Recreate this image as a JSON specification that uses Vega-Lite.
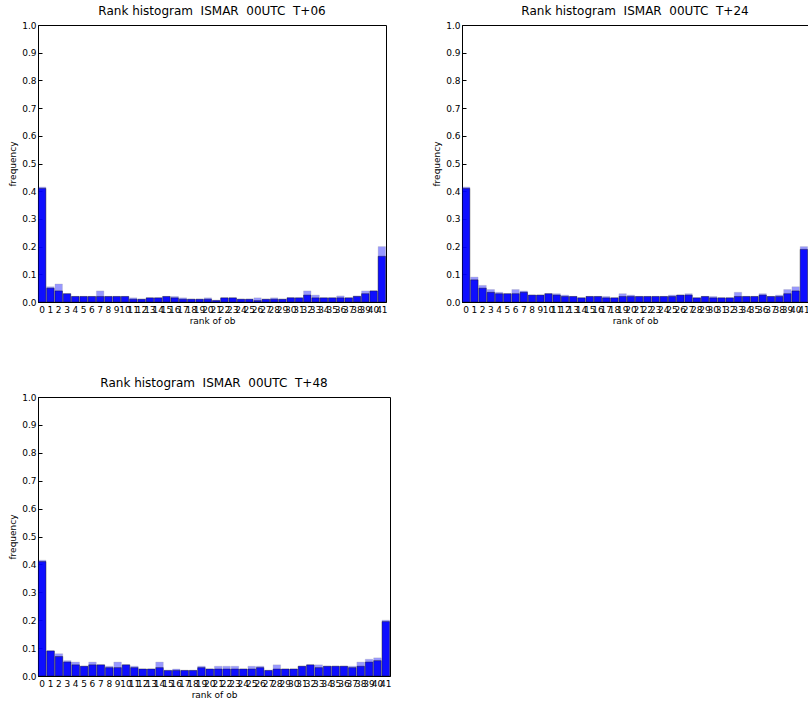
{
"$schema":"https://vega.github.io/schema/vega-lite/v6.json",
"background":"white",
"padding":{"left":8,"top":4,"right":0,"bottom":0},
"config":{"view":{"stroke":"black","strokeWidth":1},"font":"DejaVu Sans",
"axis":{"grid":false,"domainColor":"black","tickColor":"black","labelColor":"black","titleColor":"black","labelFontSize":9,"titleFontSize":9,"titleFontWeight":"normal","tickSize":-4,"labelPadding":6,"labelOverlap":false},
"title":{"fontSize":12,"fontWeight":"normal","color":"black","offset":3}},
"datasets":{"d":[
{"p":"T+06","r":0,"hi":0.415,"lo":0.41},{"p":"T+06","r":1,"hi":0.055,"lo":0.05},{"p":"T+06","r":2,"hi":0.065,"lo":0.04},{"p":"T+06","r":3,"hi":0.03,"lo":0.03},{"p":"T+06","r":4,"hi":0.02,"lo":0.02},{"p":"T+06","r":5,"hi":0.02,"lo":0.02},{"p":"T+06","r":6,"hi":0.02,"lo":0.02},{"p":"T+06","r":7,"hi":0.04,"lo":0.02},{"p":"T+06","r":8,"hi":0.02,"lo":0.02},{"p":"T+06","r":9,"hi":0.02,"lo":0.02},{"p":"T+06","r":10,"hi":0.02,"lo":0.02},{"p":"T+06","r":11,"hi":0.015,"lo":0.01},{"p":"T+06","r":12,"hi":0.01,"lo":0.01},{"p":"T+06","r":13,"hi":0.015,"lo":0.015},{"p":"T+06","r":14,"hi":0.015,"lo":0.015},{"p":"T+06","r":15,"hi":0.02,"lo":0.02},{"p":"T+06","r":16,"hi":0.02,"lo":0.015},{"p":"T+06","r":17,"hi":0.015,"lo":0.01},{"p":"T+06","r":18,"hi":0.01,"lo":0.01},{"p":"T+06","r":19,"hi":0.01,"lo":0.01},{"p":"T+06","r":20,"hi":0.015,"lo":0.01},{"p":"T+06","r":21,"hi":0.007,"lo":0.005},{"p":"T+06","r":22,"hi":0.015,"lo":0.015},{"p":"T+06","r":23,"hi":0.015,"lo":0.015},{"p":"T+06","r":24,"hi":0.01,"lo":0.01},{"p":"T+06","r":25,"hi":0.01,"lo":0.01},{"p":"T+06","r":26,"hi":0.015,"lo":0.005},{"p":"T+06","r":27,"hi":0.01,"lo":0.01},{"p":"T+06","r":28,"hi":0.015,"lo":0.01},{"p":"T+06","r":29,"hi":0.01,"lo":0.01},{"p":"T+06","r":30,"hi":0.015,"lo":0.015},{"p":"T+06","r":31,"hi":0.015,"lo":0.015},{"p":"T+06","r":32,"hi":0.04,"lo":0.025},{"p":"T+06","r":33,"hi":0.025,"lo":0.015},{"p":"T+06","r":34,"hi":0.015,"lo":0.015},{"p":"T+06","r":35,"hi":0.015,"lo":0.015},{"p":"T+06","r":36,"hi":0.022,"lo":0.015},{"p":"T+06","r":37,"hi":0.015,"lo":0.015},{"p":"T+06","r":38,"hi":0.022,"lo":0.02},{"p":"T+06","r":39,"hi":0.04,"lo":0.03},{"p":"T+06","r":40,"hi":0.04,"lo":0.04},{"p":"T+06","r":41,"hi":0.2,"lo":0.165},
{"p":"T+24","r":0,"hi":0.415,"lo":0.41},{"p":"T+24","r":1,"hi":0.09,"lo":0.08},{"p":"T+24","r":2,"hi":0.06,"lo":0.05},{"p":"T+24","r":3,"hi":0.045,"lo":0.035},{"p":"T+24","r":4,"hi":0.035,"lo":0.03},{"p":"T+24","r":5,"hi":0.03,"lo":0.03},{"p":"T+24","r":6,"hi":0.045,"lo":0.03},{"p":"T+24","r":7,"hi":0.04,"lo":0.035},{"p":"T+24","r":8,"hi":0.025,"lo":0.025},{"p":"T+24","r":9,"hi":0.025,"lo":0.025},{"p":"T+24","r":10,"hi":0.03,"lo":0.03},{"p":"T+24","r":11,"hi":0.03,"lo":0.025},{"p":"T+24","r":12,"hi":0.025,"lo":0.02},{"p":"T+24","r":13,"hi":0.02,"lo":0.02},{"p":"T+24","r":14,"hi":0.015,"lo":0.015},{"p":"T+24","r":15,"hi":0.02,"lo":0.02},{"p":"T+24","r":16,"hi":0.02,"lo":0.02},{"p":"T+24","r":17,"hi":0.02,"lo":0.015},{"p":"T+24","r":18,"hi":0.015,"lo":0.015},{"p":"T+24","r":19,"hi":0.03,"lo":0.02},{"p":"T+24","r":20,"hi":0.025,"lo":0.02},{"p":"T+24","r":21,"hi":0.02,"lo":0.02},{"p":"T+24","r":22,"hi":0.02,"lo":0.02},{"p":"T+24","r":23,"hi":0.02,"lo":0.02},{"p":"T+24","r":24,"hi":0.02,"lo":0.02},{"p":"T+24","r":25,"hi":0.025,"lo":0.02},{"p":"T+24","r":26,"hi":0.025,"lo":0.025},{"p":"T+24","r":27,"hi":0.03,"lo":0.025},{"p":"T+24","r":28,"hi":0.015,"lo":0.015},{"p":"T+24","r":29,"hi":0.02,"lo":0.02},{"p":"T+24","r":30,"hi":0.02,"lo":0.015},{"p":"T+24","r":31,"hi":0.015,"lo":0.015},{"p":"T+24","r":32,"hi":0.015,"lo":0.015},{"p":"T+24","r":33,"hi":0.035,"lo":0.02},{"p":"T+24","r":34,"hi":0.02,"lo":0.02},{"p":"T+24","r":35,"hi":0.02,"lo":0.02},{"p":"T+24","r":36,"hi":0.03,"lo":0.025},{"p":"T+24","r":37,"hi":0.02,"lo":0.02},{"p":"T+24","r":38,"hi":0.025,"lo":0.02},{"p":"T+24","r":39,"hi":0.045,"lo":0.03},{"p":"T+24","r":40,"hi":0.055,"lo":0.04},{"p":"T+24","r":41,"hi":0.2,"lo":0.19},
{"p":"T+48","r":0,"hi":0.415,"lo":0.41},{"p":"T+48","r":1,"hi":0.09,"lo":0.09},{"p":"T+48","r":2,"hi":0.08,"lo":0.07},{"p":"T+48","r":3,"hi":0.055,"lo":0.05},{"p":"T+48","r":4,"hi":0.05,"lo":0.04},{"p":"T+48","r":5,"hi":0.035,"lo":0.035},{"p":"T+48","r":6,"hi":0.05,"lo":0.04},{"p":"T+48","r":7,"hi":0.04,"lo":0.04},{"p":"T+48","r":8,"hi":0.035,"lo":0.03},{"p":"T+48","r":9,"hi":0.05,"lo":0.03},{"p":"T+48","r":10,"hi":0.04,"lo":0.04},{"p":"T+48","r":11,"hi":0.035,"lo":0.03},{"p":"T+48","r":12,"hi":0.025,"lo":0.025},{"p":"T+48","r":13,"hi":0.025,"lo":0.025},{"p":"T+48","r":14,"hi":0.05,"lo":0.03},{"p":"T+48","r":15,"hi":0.02,"lo":0.02},{"p":"T+48","r":16,"hi":0.025,"lo":0.02},{"p":"T+48","r":17,"hi":0.02,"lo":0.02},{"p":"T+48","r":18,"hi":0.02,"lo":0.02},{"p":"T+48","r":19,"hi":0.035,"lo":0.03},{"p":"T+48","r":20,"hi":0.025,"lo":0.025},{"p":"T+48","r":21,"hi":0.035,"lo":0.025},{"p":"T+48","r":22,"hi":0.035,"lo":0.025},{"p":"T+48","r":23,"hi":0.035,"lo":0.025},{"p":"T+48","r":24,"hi":0.025,"lo":0.025},{"p":"T+48","r":25,"hi":0.035,"lo":0.025},{"p":"T+48","r":26,"hi":0.035,"lo":0.03},{"p":"T+48","r":27,"hi":0.02,"lo":0.02},{"p":"T+48","r":28,"hi":0.04,"lo":0.025},{"p":"T+48","r":29,"hi":0.025,"lo":0.025},{"p":"T+48","r":30,"hi":0.025,"lo":0.025},{"p":"T+48","r":31,"hi":0.035,"lo":0.035},{"p":"T+48","r":32,"hi":0.04,"lo":0.04},{"p":"T+48","r":33,"hi":0.04,"lo":0.03},{"p":"T+48","r":34,"hi":0.035,"lo":0.035},{"p":"T+48","r":35,"hi":0.035,"lo":0.035},{"p":"T+48","r":36,"hi":0.035,"lo":0.035},{"p":"T+48","r":37,"hi":0.035,"lo":0.03},{"p":"T+48","r":38,"hi":0.05,"lo":0.035},{"p":"T+48","r":39,"hi":0.06,"lo":0.05},{"p":"T+48","r":40,"hi":0.065,"lo":0.055},{"p":"T+48","r":41,"hi":0.2,"lo":0.195}
]},
"vconcat":[
{"hconcat":[
{"title":"Rank histogram \u00a0ISMAR \u00a000UTC \u00a0T+06","width":348,"height":277,"data":{"name":"d"},"transform":[{"filter":"datum.p=='T+06'"}],
"encoding":{"x":{"field":"r","type":"ordinal","title":"rank of ob","scale":{"paddingInner":0.1,"paddingOuter":0.05},"axis":{"labelAngle":0,"ticks":false,"labelPadding":3,"titlePadding":2,"labelOverlap":false}}},
"layer":[
{"mark":{"type":"bar","color":"#0000ff","opacity":0.4,"stroke":"black","strokeOpacity":0.3,"strokeWidth":0.8},"encoding":{"y":{"field":"hi","type":"quantitative","title":"frequency","scale":{"domain":[0,1]},"axis":{"values":[0,0.1,0.2,0.3,0.4,0.5,0.6,0.7,0.8,0.9,1.0],"labelOverlap":false,"format":".1f"}}}},
{"mark":{"type":"bar","color":"#0000ff","opacity":0.9,"stroke":"black","strokeOpacity":0.5,"strokeWidth":0.8},"encoding":{"y":{"field":"lo","type":"quantitative","title":"frequency","scale":{"domain":[0,1]},"axis":{"values":[0,0.1,0.2,0.3,0.4,0.5,0.6,0.7,0.8,0.9,1.0],"labelOverlap":false,"format":".1f"}}}}]},
{"title":"Rank histogram \u00a0ISMAR \u00a000UTC \u00a0T+24","width":346,"height":277,"data":{"name":"d"},"transform":[{"filter":"datum.p=='T+24'"}],
"encoding":{"x":{"field":"r","type":"ordinal","title":"rank of ob","scale":{"paddingInner":0.1,"paddingOuter":0.05},"axis":{"labelAngle":0,"ticks":false,"labelPadding":3,"titlePadding":2,"labelOverlap":false}}},
"layer":[
{"mark":{"type":"bar","color":"#0000ff","opacity":0.4,"stroke":"black","strokeOpacity":0.3,"strokeWidth":0.8},"encoding":{"y":{"field":"hi","type":"quantitative","title":"frequency","scale":{"domain":[0,1]},"axis":{"values":[0,0.1,0.2,0.3,0.4,0.5,0.6,0.7,0.8,0.9,1.0],"labelOverlap":false,"format":".1f"}}}},
{"mark":{"type":"bar","color":"#0000ff","opacity":0.9,"stroke":"black","strokeOpacity":0.5,"strokeWidth":0.8},"encoding":{"y":{"field":"lo","type":"quantitative","title":"frequency","scale":{"domain":[0,1]},"axis":{"values":[0,0.1,0.2,0.3,0.4,0.5,0.6,0.7,0.8,0.9,1.0],"labelOverlap":false,"format":".1f"}}}}]}
],"spacing":44},
{"title":"Rank histogram \u00a0ISMAR \u00a000UTC \u00a0T+48","width":352,"height":279,"data":{"name":"d"},"transform":[{"filter":"datum.p=='T+48'"}],
"encoding":{"x":{"field":"r","type":"ordinal","title":"rank of ob","scale":{"paddingInner":0.1,"paddingOuter":0.05},"axis":{"labelAngle":0,"ticks":false,"labelPadding":3,"titlePadding":2,"labelOverlap":false}}},
"layer":[
{"mark":{"type":"bar","color":"#0000ff","opacity":0.4,"stroke":"black","strokeOpacity":0.3,"strokeWidth":0.8},"encoding":{"y":{"field":"hi","type":"quantitative","title":"frequency","scale":{"domain":[0,1]},"axis":{"values":[0,0.1,0.2,0.3,0.4,0.5,0.6,0.7,0.8,0.9,1.0],"labelOverlap":false,"format":".1f"}}}},
{"mark":{"type":"bar","color":"#0000ff","opacity":0.9,"stroke":"black","strokeOpacity":0.5,"strokeWidth":0.8},"encoding":{"y":{"field":"lo","type":"quantitative","title":"frequency","scale":{"domain":[0,1]},"axis":{"values":[0,0.1,0.2,0.3,0.4,0.5,0.6,0.7,0.8,0.9,1.0],"labelOverlap":false,"format":".1f"}}}}]}
],"spacing":50}
